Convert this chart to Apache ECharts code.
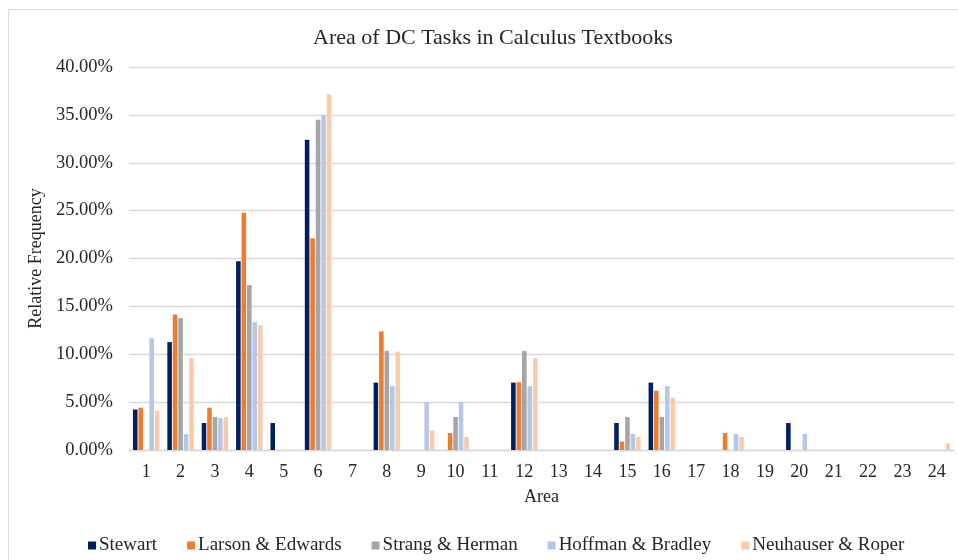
<!DOCTYPE html>
<html>
<head>
<meta charset="utf-8">
<title>Area of DC Tasks in Calculus Textbooks</title>
<script src="https://cdn.jsdelivr.net/npm/echarts@6/dist/echarts.min.js"></script>
<style>
  html, body { margin: 0; padding: 0; background: #fff; }
  #chart { width: 958px; height: 560px; }
</style>
</head>
<body>
<div id="chart"></div>
<script>
// Area numbers on the x axis
const areas = ['1','2','3','4','5','6','7','8','9','10','11','12','13','14','15','16','17','18','19','20','21','22','23','24'];

// Relative frequency (%) of tasks per area, one array per textbook
const stewart    = [4.23, 11.27, 2.82, 19.72, 2.82, 32.39, 0, 7.04, 0, 0, 0, 7.04, 0, 0, 2.82, 7.04, 0, 0, 0, 2.82, 0, 0, 0, 0];
const larson     = [4.42, 14.16, 4.42, 24.78, 0, 22.12, 0, 12.39, 0, 1.77, 0, 7.08, 0, 0, 0.88, 6.19, 0, 1.77, 0, 0, 0, 0, 0, 0];
const strang     = [0, 13.79, 3.45, 17.24, 0, 34.48, 0, 10.34, 0, 3.45, 0, 10.34, 0, 0, 3.45, 3.45, 0, 0, 0, 0, 0, 0, 0, 0];
const hoffman    = [11.67, 1.67, 3.33, 13.33, 0, 35.0, 0, 6.67, 5.0, 5.0, 0, 6.67, 0, 0, 1.67, 6.67, 0, 1.67, 0, 1.67, 0, 0, 0, 0];
const neuhauser  = [4.11, 9.59, 3.42, 13.01, 0, 37.16, 0, 10.27, 2.05, 1.37, 0, 9.59, 0, 0, 1.37, 5.48, 0, 1.37, 0, 0, 0, 0, 0, 0.69];

const seriesNames = ['Stewart', 'Larson & Edwards', 'Strang & Herman', 'Hoffman & Bradley', 'Neuhauser & Roper'];
const seriesData = [stewart, larson, strang, hoffman, neuhauser];
const colors = ['#002060', '#ED7D31', '#A5A5A5', '#B4C7E7', '#F8CBAD'];

const FONT = '"Liberation Serif", "Times New Roman", serif';
const TEXT = '#262626';

const chart = echarts.init(document.getElementById('chart'), null, { renderer: 'canvas' });

chart.setOption({
  animation: false,
  backgroundColor: '#ffffff',
  color: colors,
  graphic: [{
    type: 'rect',
    shape: { x: 8.5, y: 9.5, width: 1000, height: 1000 },
    style: { fill: 'none', stroke: '#D9D9D9', lineWidth: 1 },
    silent: true
  }],
  title: {
    text: 'Area of DC Tasks in Calculus Textbooks',
    left: 488,
    top: 22,
    textAlign: 'center',
    textStyle: { fontFamily: FONT, fontSize: 22, fontWeight: 'normal', color: TEXT }
  },
  legend: {
    data: seriesNames,
    left: 83,
    top: 531,
    itemWidth: 8,
    itemHeight: 8,
    itemGap: 30,
    icon: 'rect',
    textStyle: { fontFamily: FONT, fontSize: 19, color: TEXT, padding: [0, 0, 0, -2] }
  },
  grid: { left: 129, right: 4, top: 67, bottom: 110, containLabel: false },
  xAxis: {
    type: 'category',
    data: areas,
    name: 'Area',
    nameLocation: 'middle',
    nameGap: 38,
    nameTextStyle: { fontFamily: FONT, fontSize: 18, color: TEXT },
    axisLine: { lineStyle: { color: '#D9D9D9', width: 1.3 } },
    axisTick: { show: false },
    axisLabel: { fontFamily: FONT, fontSize: 18, color: TEXT, margin: 13, interval: 0 }
  },
  yAxis: {
    type: 'value',
    min: 0,
    max: 40,
    interval: 5,
    name: 'Relative Frequency',
    nameLocation: 'middle',
    nameGap: 83,
    nameTextStyle: { fontFamily: FONT, fontSize: 18, color: TEXT },
    axisLine: { show: false },
    axisTick: { show: false },
    splitLine: { lineStyle: { color: '#D9D9D9', width: 1.3 } },
    axisLabel: {
      fontFamily: FONT, fontSize: 18.5, color: TEXT, margin: 16,
      formatter: v => v.toFixed(2) + '%'
    }
  },
  series: seriesNames.map((name, i) => ({
    name: name,
    type: 'bar',
    data: seriesData[i],
    barGap: '20%',
    barCategoryGap: '23%',
    itemStyle: { color: colors[i] }
  }))
});
</script>
</body>
</html>
